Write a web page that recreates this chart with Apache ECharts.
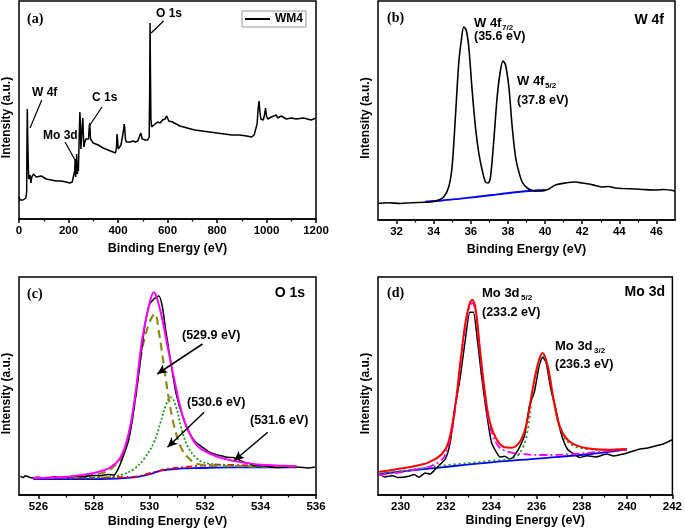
<!DOCTYPE html>
<html><head><meta charset="utf-8">
<script src="https://cdn.jsdelivr.net/npm/echarts@6.0.0/dist/echarts.min.js"></script>
<style>html,body{margin:0;padding:0;background:#fff}#c{width:685px;height:532px}</style>
</head><body><div id="c"></div>
<script>
// ---------- (a) survey ----------
const surveyE = [0,4,8,12,16,20,24,28,31,32,33.5,35,37,39,42,45,48,52,58,70,90,110,130,150,170,190,205,215,222,225,227,229,231,233,236,238,240,243,246,248,250,253,256,258,260,262,265,270,276,281,284,286,289,293,300,320,340,360,380,390,394,396,398,401,405,412,418,422,425,427,430,434,440,450,460,470,480,488,492,495,498,503,510,520,526,528,529.5,531,533,536,540,550,560,570,580,590,597,605,620,650,680,710,740,770,800,830,860,890,920,940,950,958,962,966,970,973,977,982,987,992,996,1000,1005,1020,1040,1045,1060,1080,1100,1120,1150,1180,1200];
const surveyI = [22,19,17,20,19,18,21,21,28,70,110,85,60,40,38,44,36,42,45,42,43,40,39,38,38,37,36,37,37,48,60,42,50,65,45,55,48,80,107,95,70,72,95,101,85,72,76,80,78,80,93,96,80,78,76,74,71,69,67,66,72,85,80,70,72,74,76,88,95,92,80,77,78,77,78,77,78,80,86,85,80,78,79,79,82,130,196,150,100,92,93,95,97,96,99,100,103,98,97,93,91,89,88,87,86,85,84,84,83,82,84,86,95,110,118,108,100,101,99,104,111,103,100,102,104,101,103,100,101,100,101,99,101];
const aTicks = [0,200,400,600,800,1000,1200];

// ---------- (b) W 4f ----------
const wE = [31.04,31.6,32.2,32.8,33.55,34.0,34.27,34.54,34.81,34.99,35.17,35.35,35.49,35.62,35.75,35.89,36.07,36.25,36.43,36.61,36.79,36.93,37.06,37.24,37.42,37.6,37.74,37.87,38.05,38.23,38.41,38.59,38.77,39.04,39.4,39.85,40.2,40.56,41.1,41.64,42.0,42.36,42.7,43.08,43.4,43.8,44.2,44.88,45.3,45.96,46.4,47];
const wI = [16.7,17.2,16.5,17.3,17.7,18.5,20,23,33,53,103,157,180,193,190,173,130,93,67,50,38,37,43,80,123,150,159,155,133,93,63,48,38,32,29,29,31,35,37,38,37,36,34.5,33,33.5,32,31.5,31,30.5,30,30.5,29];
const wBgE = [33.55,34.45,35.35,36.25,37.15,38.05,39.13,40.03];
const wBgI = [18.3,19.5,21.2,23,25,27,29,30];
const bTicks = [32,34,36,38,40,42,44,46];
const bMinor = [33,35,37,39,41,43,45];

// ---------- (c) O 1s ----------
const oE = [525.35,525.45,525.53,525.65,525.77,526.0,526.2,526.43,526.6,526.8,527.03,527.3,527.64,527.9,528.24,528.5,528.72,528.84,529.02,529.26,529.44,529.62,529.8,529.98,530.16,530.34,530.46,530.58,530.77,530.95,531.19,531.43,531.67,531.97,532.15,532.33,532.55,532.81,533.0,533.17,533.41,533.6,533.77,534.0,534.26,534.5,534.86,535.1,535.46,535.7,535.96];
const oI = [18.7,17.5,19.3,18,17,17.8,16.8,17.3,18.2,17.5,17.7,18.8,18.3,19.5,19.3,20.5,20,24.3,36,56,86,122.7,162.7,189,196,199,189,166,132.7,102.7,79,62.7,52.7,46.7,43,41,39.5,37.7,37.5,36,32.7,31.5,29.3,29.5,28.7,27.5,27.7,28.5,27.7,27,28];
const oFitE = [525.81,526.5,527.03,527.5,528,528.3,528.6,528.96,529.26,529.5,529.74,529.98,530.16,530.28,530.46,530.65,530.89,531.13,531.37,531.73,532.21,532.6,533.05,533.5,534,534.6,535.3];
const oFitI = [17,17.5,18.3,19.8,22,24.3,27.7,37.7,62.7,102.7,156,189,202.7,196,176,149,116,86,66,49,41,37,34,32,30.3,29.5,28.7];
const o1E = [525.81,526.5,527.6,528.24,528.6,528.96,529.26,529.5,529.74,529.98,530.19,530.34,530.52,530.7,530.89,531.13,531.37,531.73,532.45,533.65,535.3];
const o1I = [17,17.3,18.7,21.5,26,36,59,99,146,171,181,163,129,96,69,48,38,31,29,28.7,28.3];
const o2E = [525.81,527.5,528.24,528.96,529.44,529.8,530.16,530.4,530.58,530.77,530.95,531.13,531.37,531.73,532.09,533.05,534.26,535.3];
const o2I = [17,17.2,17.3,20,26,36,52.7,72.7,89,97.7,89,69,49,36,31.7,29.3,28.3,28.3];
const o3E = [525.81,529.44,530.04,530.65,531.37,531.85,532.45,533.05,533.99,535.3];
const o3I = [16.7,18.3,22,26,28.3,29.3,30.3,30,29.3,28.3];
const oBgE = [525.81,528.24,529.44,530.04,530.4,530.89,531.85,533.05,535.3];
const oBgI = [16,16,17.7,21,24.3,26,27,27.7,27.7];
const cTicks = [526,528,530,532,534,536];
const cMinor = [527,529,531,533,535];

// ---------- (d) Mo 3d ----------
const mE = [229.05,229.3,229.64,229.9,230.36,230.6,230.8,231.09,231.3,231.5,231.68,231.97,232.19,232.41,232.62,232.84,233.06,233.21,233.35,233.57,233.79,234.01,234.23,234.4,234.59,234.8,234.96,235.1,235.25,235.47,235.69,235.9,236.12,236.27,236.42,236.63,236.85,237.07,237.36,237.65,237.9,238.24,238.6,239.11,239.4,239.84,240.2,240.57,240.9,241.3,241.6,242];
const mI = [21,18,19.3,17.5,18.7,20.5,17.8,22,21,25,29.3,36,52.7,89.3,116,152.7,182.7,182.7,162.7,119.3,82.7,52.7,42.7,38,38.7,36,37.7,42,47.7,59.3,89.3,102.7,129.3,137.7,132.7,106,86,62.7,46,41,37.5,39.3,38,41,39,41,43.5,46,47,49.3,51,55.3];
const mFitE = [229.05,229.7,230.36,230.8,231.24,231.82,232.11,232.41,232.62,232.84,233.02,233.16,233.31,233.5,233.72,233.94,234.23,234.59,234.88,235.25,235.54,235.83,236.08,236.27,236.49,236.78,237.07,237.5,238.24,239.11,239.98];
const mFitI = [23.3,25.3,27.7,29.8,32.7,41,52.7,89.3,129.3,169.3,189.3,195,186,146,102.7,72.7,56,47.7,47.3,52.7,69.3,106,132.7,142,129.3,92.7,66,52.7,46.7,45.3,46];
const m1E = [229.05,230.36,231.68,232.11,232.41,232.62,232.84,233.02,233.16,233.31,233.5,233.72,233.94,234.3,234.74,235.33,236.2,237.65,239.11,239.98];
const m1I = [20,24.3,32.7,49.3,86,126,166,186,192,182.7,142.7,99.3,69.3,49.3,43.3,41,40,41,44,45.3];
const m2E = [229.05,231.82,234.01,235.04,235.4,235.62,235.83,236.08,236.27,236.49,236.78,237.07,237.5,238.24,239.11,239.98];
const m2I = [21,29.3,34.3,37.7,47.7,66,102.7,129.3,139.3,127.7,91,64.3,51,46,45,46];
const mBgE = [229.05,231.82,234.01,236.2,238.39,239.98];
const mBgI = [21,27.7,32.7,36.7,41,45.3];
const dTicks = [230,232,234,236,238,240,242];
const dMinor = [231,233,235,237,239,241];

// ---------- build ----------
const zip = (x, y) => x.map((v, i) => [v, y[i]]);
const SANS = 'Arial, "Liberation Sans", sans-serif';
const SERIF = '"Times New Roman", "Liberation Serif", serif';
const grids = [
  {left:19, top:1, width:297, height:218},
  {left:378, top:1, width:297, height:219},
  {left:19, top:277, width:297, height:218},
  {left:378, top:277, width:297, height:218}
].map(g => Object.assign(g, {show:true, borderColor:'#000', borderWidth:1.5, backgroundColor:'transparent'}));

const axLine = {show:true, lineStyle:{color:'#000', width:1.5}};
const labelStyle = {color:'#000', fontSize:11.5, fontWeight:'bold', fontFamily:SANS, margin:6, formatter:v => String(v)};
const nameStyle = {color:'#000', fontSize:12.5, fontWeight:'bold', fontFamily:SANS};
function mainX(gi, min, max, ticks, extra) {
  return Object.assign({
    gridIndex:gi, type:'value', min, max, position:'bottom',
    axisLine:axLine,
    axisTick:{show:true, length:4, customValues:ticks, lineStyle:{color:'#000', width:1.5}},
    axisLabel:Object.assign({customValues:ticks}, labelStyle),
    splitLine:{show:false},
    name:'Binding Energy (eV)', nameLocation:'middle', nameGap:23, nameTextStyle:nameStyle
  }, extra || {});
}
function minorX(gi, min, max, ticks) {
  return {gridIndex:gi, type:'value', min, max, position:'bottom',
    axisLine:{show:false},
    axisTick:{show:true, length:2.5, customValues:ticks, lineStyle:{color:'#000', width:1.3}},
    axisLabel:{show:false}, splitLine:{show:false}};
}
const xAxes = [
  {gridIndex:0, type:'value', min:aTicks[0], max:aTicks[aTicks.length-1], interval:aTicks[1]-aTicks[0], position:'bottom',
    axisLine:axLine,
    axisTick:{show:true, length:4, lineStyle:{color:'#000', width:1.5}},
    minorTick:{show:true, splitNumber:2, length:2.5, lineStyle:{color:'#000', width:1.3}},
    axisLabel:labelStyle, splitLine:{show:false}, minorSplitLine:{show:false},
    name:'Binding Energy (eV)', nameLocation:'middle', nameGap:23, nameTextStyle:nameStyle},
  mainX(1, 31, 47, bTicks), minorX(1, 31, 47, bMinor),
  mainX(2, 525.3, 536, cTicks, {nameGap:20}), minorX(2, 525.3, 536, cMinor),
  mainX(3, 229, 242, dTicks, {nameGap:17}), minorX(3, 229, 242, dMinor)
];
const yMax = [218, 219, 218, 218];
const yAxes = yMax.map((m, i) => ({
  gridIndex:i, type:'value', min:0, max:m,
  axisLine:{show:false}, axisTick:{show:false}, axisLabel:{show:false}, splitLine:{show:false},
  name:'Intensity (a.u.)', nameLocation:'middle', nameGap:6,
  nameTextStyle:Object.assign({padding:[0,15,0,0]}, nameStyle, {fontSize:12})
}));

function line(name, xi, yi, data, color, width, type, z, smooth) {
  return {name, type:'line', xAxisIndex:xi, yAxisIndex:yi, data, showSymbol:false, symbol:'none',
    smooth: smooth || 0, z: z || 2,
    lineStyle:{color, width, type: type || 'solid'}, itemStyle:{color}, silent:true};
}
const arrowLine = (a, b) => [{coord:a}, {coord:b}];

const sWM4 = line('WM4', 0, 0, zip(surveyE, surveyI), '#000', 1.5);
sWM4.markLine = {silent:true, symbol:['none','none'], label:{show:false}, animation:false,
  lineStyle:{color:'#000', width:1.2, type:'solid'},
  data:[arrowLine([534,186],[584,198]), arrowLine([44.6,91],[92,119]), arrowLine([284,93],[335,112]), arrowLine([186,77],[231,57])]};

const sO = line('O data', 3, 2, zip(oE, oI), '#000', 1.5, 'solid', 3, 0.2);
sO.markLine = {silent:true, symbol:['none','arrow'], symbolSize:[7,10], label:{show:false}, animation:false,
  lineStyle:{color:'#000', width:1.5, type:'solid'},
  data:[arrowLine([531.91,151],[530.28,121]), arrowLine([531.97,82.7],[530.65,47.7]), arrowLine([534.26,62.7],[533.05,34.3])]};

const series = [
  sWM4,
  line('W data', 1, 1, zip(wE, wI), '#000', 1.6, 'solid', 3, 0.3),
  line('W bg', 1, 1, zip(wBgE, wBgI), '#0000ff', 1.8, 'solid', 2, 0.3),
  line('O bg', 3, 2, zip(oBgE, oBgI), '#0000ff', 1.8, 'solid', 2, 0.4),
  line('O 531.6', 3, 2, zip(o3E, o3I), '#ff0000', 1.8, [6,3,2,3], 3, 0.4),
  line('O 530.6', 3, 2, zip(o2E, o2I), '#1a9a1a', 1.8, [2,2], 3, 0.4),
  line('O 529.9', 3, 2, zip(o1E, o1I), '#8b8b1a', 2.2, [8,5], 3, 0.4),
  sO,
  line('O fit', 3, 2, zip(oFitE, oFitI), '#ff00ff', 2, 'solid', 4, 0.4),
  line('Mo data', 5, 3, zip(mE, mI), '#000', 1.5, 'solid', 3, 0.2),
  line('Mo bg', 5, 3, zip(mBgE, mBgI), '#0000ff', 1.8, 'solid', 2, 0.4),
  line('Mo 236.3', 5, 3, zip(m2E, m2I), '#1a9a1a', 1.8, [2,3], 3, 0.4),
  line('Mo 233.2', 5, 3, zip(m1E, m1I), '#ff00ff', 1.8, [8,3,2,3], 3, 0.4),
  line('Mo fit', 5, 3, zip(mFitE, mFitI), '#ff0000', 2, 'solid', 4, 0.4)
];

function txt(x, y, text, size, opts) {
  opts = opts || {};
  return {type:'text', x, y, silent:true, z:100,
    style:{text, fill:'#000', align:opts.align || 'left', verticalAlign:'middle',
      font:'bold ' + size + 'px ' + (opts.serif ? SERIF : SANS)}};
}
const graphic = [
  txt(27, 19, '(a)', 14, {serif:true}),
  txt(156, 14, 'O 1s', 12),
  txt(32, 92.5, 'W 4f', 12),
  txt(92, 97.5, 'C 1s', 12),
  txt(43, 136, 'Mo 3d', 12),

  txt(387, 18.7, '(b)', 14, {serif:true}),
  txt(664, 20, 'W 4f', 14, {align:'right'}),
  txt(474, 23, 'W 4f', 13), txt(502, 27.5, '7/2', 8),
  txt(474, 36.7, '(35.6 eV)', 12.5),
  txt(517, 81.5, 'W 4f', 13), txt(545, 86, '5/2', 8),
  txt(517, 100.5, '(37.8 eV)', 12.5),

  txt(27, 294, '(c)', 14, {serif:true}),
  txt(305, 293, 'O 1s', 14, {align:'right'}),
  txt(182, 336, '(529.9 eV)', 12.5),
  txt(187, 403, '(530.6 eV)', 12.5),
  txt(250, 421, '(531.6 eV)', 12.5),

  txt(387, 293, '(d)', 14, {serif:true}),
  txt(665, 292, 'Mo 3d', 14, {align:'right'}),
  txt(482, 293.7, 'Mo 3d', 13), txt(521, 297.5, '5/2', 8),
  txt(482, 312.7, '(233.2 eV)', 12.5),
  txt(555, 346.5, 'Mo 3d', 13), txt(594, 350.5, '3/2', 8),
  txt(555, 364.7, '(236.3 eV)', 12.5)
];

const chart = echarts.init(document.getElementById('c'), null, {renderer:'canvas'});
chart.setOption({
  animation:false,
  backgroundColor:'#fff',
  grid:grids, xAxis:xAxes, yAxis:yAxes, series,
  legend:{data:[{name:'WM4', icon:'rect'}], left:242, top:11, itemWidth:25, itemHeight:2, itemGap:4,
    borderColor:'#999', borderWidth:1, padding:[2,3,2,3], selectedMode:false,
    textStyle:{color:'#000', fontWeight:'bold', fontSize:12, fontFamily:SANS}},
  graphic
});
</script></body></html>
